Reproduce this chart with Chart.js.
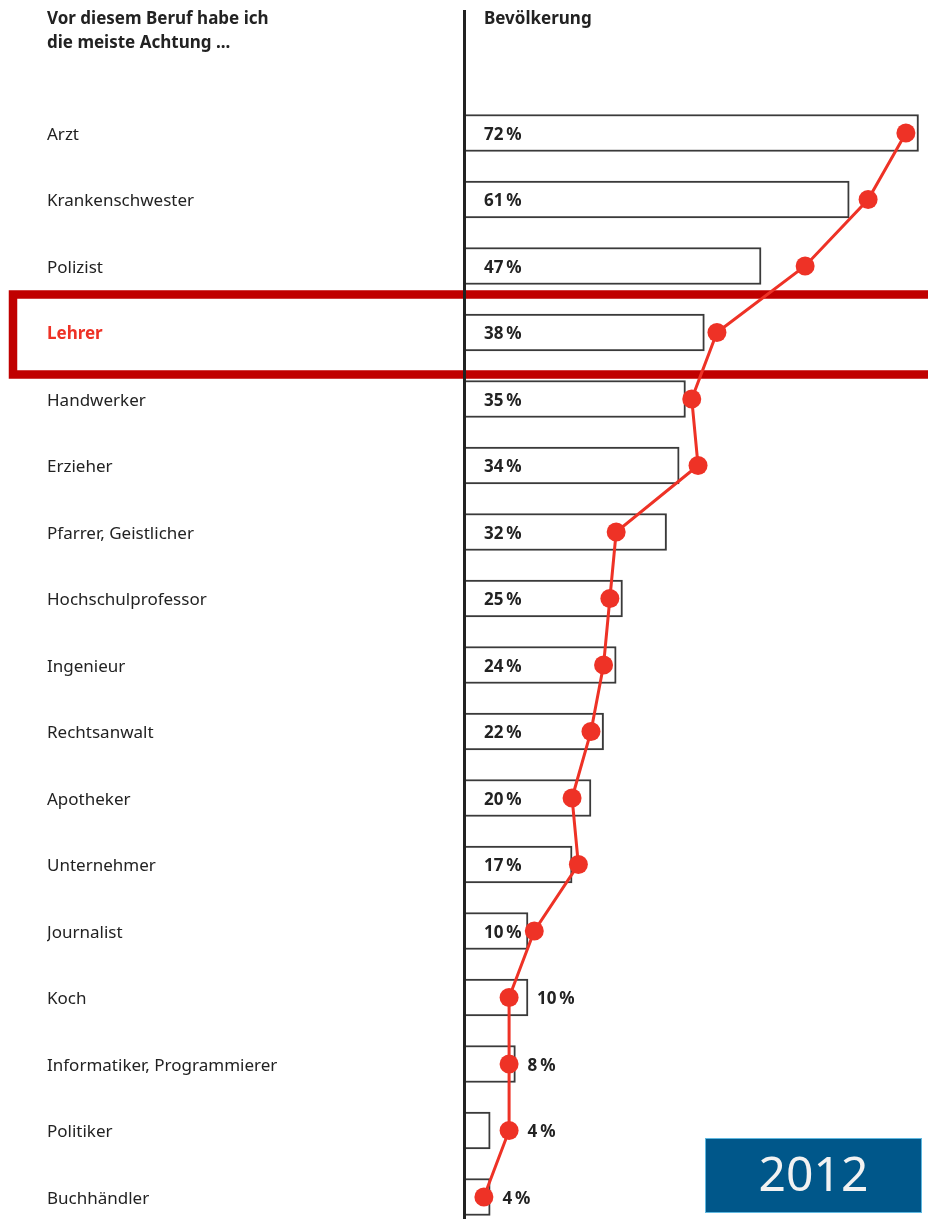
<!DOCTYPE html>
<html>
<head>
<meta charset="utf-8">
<script src="https://cdn.jsdelivr.net/npm/chart.js@4"></script>
<style>
  html, body { margin: 0; padding: 0; background: #ffffff; }
  #wrap { position: relative; width: 928px; height: 1219px; overflow: hidden; }
  canvas { display: block; }
</style>
</head>
<body>
<div id="wrap"><canvas id="c" width="928" height="1219"></canvas></div>
<script>
const categories = ["Arzt", "Krankenschwester", "Polizist", "Lehrer", "Handwerker", "Erzieher",
  "Pfarrer, Geistlicher", "Hochschulprofessor", "Ingenieur", "Rechtsanwalt", "Apotheker",
  "Unternehmer", "Journalist", "Koch", "Informatiker, Programmierer", "Politiker", "Buchhändler"];
const bevoelkerung = [72, 61, 47, 38, 35, 34, 32, 25, 24, 22, 20, 17, 10, 10, 8, 4, 4];
const vergleich = [70, 64, 54, 40, 36, 37, 24, 23, 22, 20, 17, 18, 11, 7, 7, 7, 3];
const highlight = "Lehrer";
const headerLeft = ["Vor diesem Beruf habe ich", "die meiste Achtung ..."];
const headerRight = "Bevölkerung";
const yearLabel = "2012";

const FONT = "'Noto Sans', 'Open Sans', sans-serif";
const RED = "#ee3226";
const DARK_RED = "#c00000";
const TEXT = "#222222";
const POINT_R = 9.5;

const overlay = {
  id: 'overlay',
  beforeDatasetsDraw(chart) {
    const ctx = chart.ctx;
    const y = chart.scales.y;
    ctx.save();
    // headers
    ctx.fillStyle = TEXT;
    ctx.font = "bold 17px " + FONT;
    ctx.textBaseline = "middle";
    ctx.textAlign = "left";
    ctx.fillText(headerLeft[0], 47, 19);
    ctx.fillText(headerLeft[1], 47, 43);
    ctx.fillText(headerRight, 484, 19);
    // highlight frame
    const hi = categories.indexOf(highlight);
    const cy = y.getPixelForValue(hi);
    ctx.strokeStyle = DARK_RED;
    ctx.lineWidth = 8.5;
    ctx.strokeRect(13, cy - 38, 940, 80);
    ctx.restore();
  },
  afterDatasetDraw(chart, args) {
    if (args.index !== 1) return;
    const ctx = chart.ctx;
    const x = chart.scales.x;
    const y = chart.scales.y;
    ctx.save();
    ctx.font = "bold 17px " + FONT;
    ctx.fillStyle = TEXT;
    ctx.textBaseline = "middle";
    ctx.textAlign = "left";
    const x0 = x.getPixelForValue(0);
    bevoelkerung.forEach((v, i) => {
      const txt = v + "\u2009%";
      const w = ctx.measureText(txt).width;
      const cy = y.getPixelForValue(i);
      const barEnd = x.getPixelForValue(v);
      const dot = x.getPixelForValue(vergleich[i]);
      let tx = x0 + 19;
      if (dot + POINT_R > tx - 5 && dot - POINT_R < tx + w - 4) {
        tx = Math.max(barEnd, dot + POINT_R) + 9;
      }
      ctx.fillText(txt, tx, cy + 2);
    });
    ctx.restore();
  },
  afterDraw(chart) {
    const ctx = chart.ctx;
    ctx.save();
    // vertical axis line
    ctx.strokeStyle = TEXT;
    ctx.lineWidth = 3;
    ctx.beginPath();
    ctx.moveTo(464.5, 10);
    ctx.lineTo(464.5, 1219);
    ctx.stroke();
    // year box
    ctx.fillStyle = "#00578a";
    ctx.fillRect(705, 1138, 217, 75);
    ctx.strokeStyle = "#5fb8e0";
    ctx.lineWidth = 1;
    ctx.strokeRect(705.5, 1138.5, 216, 74);
    ctx.fillStyle = "#f2f2f2";
    ctx.font = "48px " + FONT;
    ctx.textAlign = "center";
    ctx.textBaseline = "middle";
    ctx.fillText(yearLabel, 813.5, 1177);
    ctx.restore();
  }
};

new Chart(document.getElementById('c'), {
  type: 'bar',
  data: {
    labels: categories,
    datasets: [
      {
        type: 'line',
        label: 'Vergleich',
        data: vergleich,
        indexAxis: 'y',
        borderColor: RED,
        borderWidth: 3,
        backgroundColor: RED,
        pointRadius: POINT_R,
        pointBackgroundColor: RED,
        pointBorderWidth: 0,
        tension: 0,
        clip: false,
        order: 0
      },
      {
        type: 'bar',
        label: 'Bevölkerung',
        data: bevoelkerung,
        indexAxis: 'y',
        backgroundColor: '#ffffff',
        borderColor: '#3a3a3a',
        borderWidth: 2,
        barThickness: 37,
        clip: false,
        order: 1
      }
    ]
  },
  options: {
    indexAxis: 'y',
    responsive: false,
    animation: false,
    devicePixelRatio: 1,
    layout: { padding: { left: 47, right: 9, top: 133, bottom: 22 } },
    plugins: { legend: { display: false }, tooltip: { enabled: false } },
    scales: {
      x: {
        type: 'linear',
        min: 0,
        max: 72,
        display: false
      },
      y: {
        type: 'category',
        offset: false,
        grid: { display: false },
        border: { display: false },
        ticks: {
          crossAlign: 'far',
          padding: 0,
          labelOffset: 2,
          color: (c) => categories[c.index] === highlight ? RED : TEXT,
          font: (c) => ({ family: FONT, size: 17, weight: categories[c.index] === highlight ? 'bold' : 'normal' })
        },
        afterFit(scale) { scale.width = 465 - 47; }
      }
    }
  },
  plugins: [overlay]
});
</script>
</body>
</html>
